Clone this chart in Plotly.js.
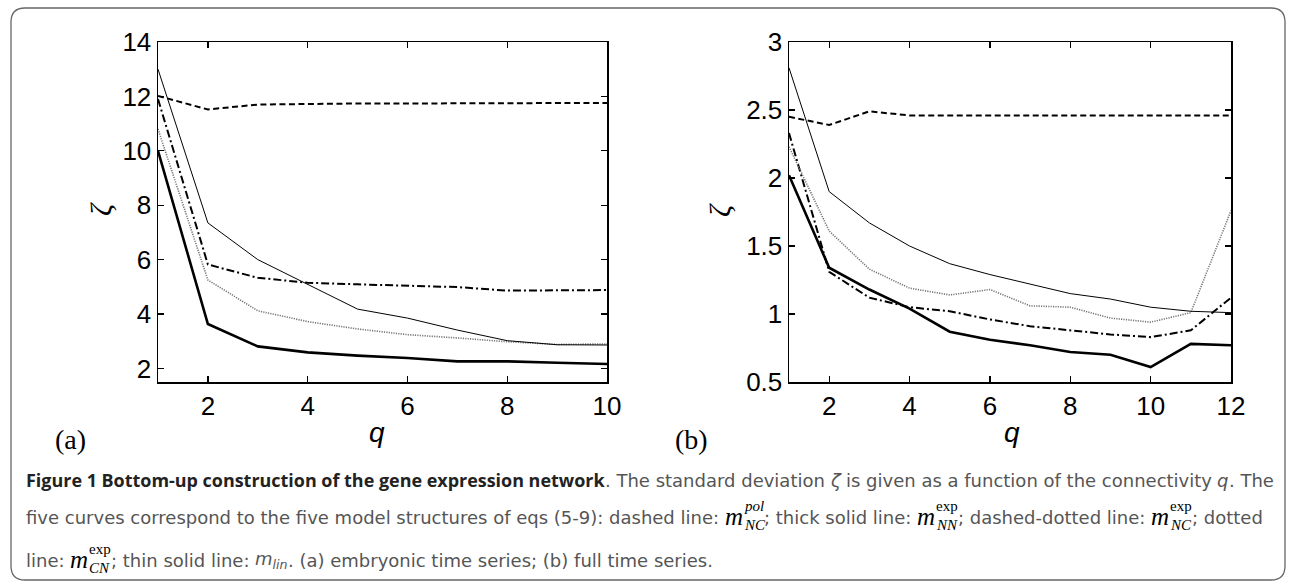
<!DOCTYPE html>
<html><head><meta charset="utf-8">
<script src="https://cdn.plot.ly/plotly-3.0.1.min.js"></script>
<style>html,body{margin:0;padding:0;background:#fff;} #chart{width:1292px;height:587px;}</style>
</head><body><div id="chart"></div>
<script>
// ---------- data ----------
const qA = [1, 2, 3, 4, 5, 6, 7, 8, 9, 10];
const a_pol = [12.02, 11.52, 11.70, 11.73, 11.74, 11.74, 11.74, 11.74, 11.74, 11.76]; // dashed
const a_NN  = [10.00, 3.63, 2.81, 2.59, 2.47, 2.38, 2.26, 2.26, 2.21, 2.16];        // thick solid
const a_NC  = [11.90, 5.82, 5.33, 5.15, 5.09, 5.03, 4.99, 4.86, 4.88, 4.88];        // dash-dot
const a_CN  = [10.80, 5.25, 4.12, 3.72, 3.45, 3.24, 3.12, 2.98, 2.88, 2.90];        // dotted
const a_lin = [13.00, 7.35, 6.00, 5.10, 4.18, 3.85, 3.41, 3.02, 2.87, 2.86];        // thin solid

const qB = [1, 2, 3, 4, 5, 6, 7, 8, 9, 10, 11, 12];
const b_pol = [2.45, 2.39, 2.49, 2.46, 2.46, 2.46, 2.46, 2.46, 2.46, 2.46, 2.46, 2.46];
const b_NN  = [2.02, 1.34, 1.18, 1.04, 0.87, 0.81, 0.77, 0.72, 0.70, 0.61, 0.78, 0.77];
const b_NC  = [2.33, 1.31, 1.12, 1.05, 1.02, 0.96, 0.91, 0.88, 0.85, 0.83, 0.88, 1.12];
const b_CN  = [2.23, 1.61, 1.33, 1.19, 1.14, 1.18, 1.06, 1.05, 0.97, 0.94, 1.01, 1.76];
const b_lin = [2.81, 1.90, 1.67, 1.50, 1.37, 1.29, 1.22, 1.15, 1.11, 1.05, 1.02, 1.01];

const ticksA_x = [2, 4, 6, 8, 10];
const ticksA_y = [2, 4, 6, 8, 10, 12, 14];
const ticksB_x = [2, 4, 6, 8, 10, 12];
const ticksB_y = [0.5, 1, 1.5, 2, 2.5, 3];
const ticksB_ytext = ['0.5', '1', '1.5', '2', '2.5', '3'];

// ---------- layout helpers ----------
const W = 1292, H = 587;
const px = x => x / W, py = y => 1 - y / H;

// measure text with an SVG text node (same engine Plotly draws with); removed after use
const svgNS = 'http://www.w3.org/2000/svg';
const msvg = document.createElementNS(svgNS, 'svg');
msvg.setAttribute('style', 'position:absolute;left:0;top:0;width:2000px;height:100px;visibility:hidden');
const mtext = document.createElementNS(svgNS, 'text');
mtext.setAttribute('x', '0'); mtext.setAttribute('y', '50');
mtext.style.whiteSpace = 'pre';
msvg.appendChild(mtext);
document.body.appendChild(msvg);
function measure(text, fam, size, style, weight) {
  mtext.style.fontFamily = fam;
  mtext.style.fontSize = size + 'px';
  mtext.style.fontStyle = style || 'normal';
  mtext.style.fontWeight = weight || 'normal';
  mtext.textContent = text;
  return mtext.getComputedTextLength();
}

const styles = {
  pol: {dash: '6px,3.5px', width: 2, color: '#000'},
  NN:  {dash: 'solid', width: 2.6, color: '#000'},
  NC:  {dash: '8px,3px,2px,3px', width: 2, color: '#000'},
  CN:  {dash: '1.2px,1.2px', width: 1.6, color: '#777'},
  lin: {dash: 'solid', width: 1, color: '#000'}
};
function tr(x, y, s, xa, ya) {
  return {x: x, y: y, type: 'scatter', mode: 'lines', xaxis: xa, yaxis: ya,
          line: {dash: s.dash, width: s.width, color: s.color}, showlegend: false, hoverinfo: 'skip'};
}
const data = [
  tr(qA, a_pol, styles.pol, 'x', 'y'), tr(qA, a_NC, styles.NC, 'x', 'y'), tr(qA, a_CN, styles.CN, 'x', 'y'),
  tr(qA, a_lin, styles.lin, 'x', 'y'), tr(qA, a_NN, styles.NN, 'x', 'y'),
  tr(qB, b_pol, styles.pol, 'x2', 'y2'), tr(qB, b_NC, styles.NC, 'x2', 'y2'), tr(qB, b_CN, styles.CN, 'x2', 'y2'),
  tr(qB, b_lin, styles.lin, 'x2', 'y2'), tr(qB, b_NN, styles.NN, 'x2', 'y2')
];

const tickFont = {family: 'Liberation Sans, Arial, sans-serif', size: 26, color: '#000'};
function axis(extra) {
  return Object.assign({ticks: 'inside', ticklen: 6, tickwidth: 1.3, tickcolor: '#000', showline: true,
    linecolor: '#000', linewidth: 1.5, mirror: 'ticks', showgrid: false, zeroline: false,
    tickfont: tickFont, fixedrange: true}, extra);
}

const L = {x0: 158, x1: 607, y0: 42, y1: 382};
const R = {x0: 789, x1: 1231, y0: 42, y1: 382};

const annotations = [];
function ann(x, y, text, font, extra) {
  annotations.push(Object.assign({xref: 'paper', yref: 'paper', x: px(x), y: py(y), text: text,
    showarrow: false, font: font, xanchor: 'center', yanchor: 'middle', borderpad: 0}, extra || {}));
}
const labFont = {family: 'Liberation Sans, Arial, sans-serif', size: 28, color: '#000', style: 'italic'};
const zetaFont = {family: 'Liberation Serif, Times New Roman, serif', size: 30, color: '#000', style: 'italic'};
const panFont = {family: 'Liberation Serif, Times New Roman, serif', size: 28, color: '#000'};
ann(101, 209, 'ζ', zetaFont, {textangle: -90});
ann(719, 210, 'ζ', zetaFont, {textangle: -90});
ann(377, 432, 'q', labFont);
ann(1012, 432, 'q', labFont);
ann(70, 439, '(a)', panFont);
ann(691, 439, '(b)', panFont);

// ---------- caption ----------
const capFam = 'DejaVu Sans';
const boldFam = 'Open Sans';
const capColor = '#555';
const boldColor = '#222';
const mathFam = 'Liberation Serif';
const mSize = 25, scSize = 15;

const capLine1 = [
  {t: 'Figure 1 Bottom-up construction of the gene expression network', w: 'bold'},
  {t: '. The standard deviation '}, {t: 'ζ ', s: 'italic'},
  {t: 'is given as a function of the connectivity '}, {t: 'q', s: 'italic'}, {t: '. The'}
];
const capLine2 = [
  {t: 'five curves correspond to the five model structures of eqs (5-9): dashed line: '},
  {m: true, sup: 'pol', supI: true, sub: 'NC'}, {t: '; thick solid line: '},
  {m: true, sup: 'exp', sub: 'NN'}, {t: '; dashed-dotted line: '},
  {m: true, sup: 'exp', sub: 'NC'}, {t: '; dotted'}
];
const capLine3 = [
  {t: 'line: '}, {m: true, sup: 'exp', sub: 'CN'}, {t: '; thin solid line: '},
  {lin: true}, {t: '. (a) embryonic time series; (b) full time series.'}
];

function mathW(sg) {
  return measure('m', mathFam, mSize, 'italic') + 1 +
    Math.max(measure(sg.sup, mathFam, scSize, sg.supI ? 'italic' : 'normal'), measure(sg.sub, mathFam, scSize, 'italic'));
}
function segW(sg, size, bsize) {
  if (sg.m) return mathW(sg);
  if (sg.lin) return measure('m', capFam, size, 'italic') + measure('lin', capFam, size * 0.7, 'italic');
  if (sg.w === 'bold') return measure(sg.t, boldFam, bsize, sg.s, 'bold');
  return measure(sg.t, capFam, size, sg.s, sg.w);
}
// fit regular text size so that line 2 spans like the reference
let t16 = 0, mw = 0;
capLine2.forEach(sg => { if (sg.m) mw += mathW(sg); else t16 += segW(sg, 16, 16); });
const capSize = Math.max(12, Math.min(20, 16 * (1262 - 25 - mw) / t16));
// fit bold run so that line 1 spans like the reference
let rest1 = 0, b16 = 0;
capLine1.forEach(sg => { if (sg.w === 'bold') b16 += segW(sg, 16, 16); else rest1 += segW(sg, capSize, capSize); });
const boldSize = Math.max(capSize * 0.85, Math.min(capSize * 1.1, 16 * (1273 - 25 - rest1) / b16));

function placeLine(segs, y, x) {
  segs.forEach(sg => {
    if (sg.m) {
      ann(x, y - 1, 'm', {family: mathFam, size: mSize, color: '#000', style: 'italic'}, {xanchor: 'left'});
      const x2 = x + measure('m', mathFam, mSize, 'italic') + 1;
      ann(x2, y - 11, sg.sup, {family: mathFam, size: scSize, color: '#000', style: sg.supI ? 'italic' : 'normal'}, {xanchor: 'left'});
      ann(x2, y + 8, sg.sub, {family: mathFam, size: scSize, color: '#000', style: 'italic'}, {xanchor: 'left'});
    } else if (sg.lin) {
      ann(x, y, '<i>m</i><sub><i>lin</i></sub>', {family: capFam, size: capSize, color: capColor}, {xanchor: 'left'});
    } else if (sg.w === 'bold') {
      ann(x, y, sg.t, {family: boldFam, size: boldSize, color: boldColor, weight: 'bold'}, {xanchor: 'left'});
    } else {
      const font = {family: capFam, size: capSize, color: capColor};
      if (sg.s) font.style = sg.s;
      ann(x, y, sg.t, font, {xanchor: 'left'});
    }
    x += segW(sg, capSize, boldSize);
  });
}
placeLine(capLine1, 480, 25);
placeLine(capLine2, 517, 25);
placeLine(capLine3, 560, 25);
document.body.removeChild(msvg);

// rounded border
const bx0 = 11, by0 = 8, bx1 = 1285, by1 = 580, r = 14;
const path = 'M' + px(bx0 + r) + ',' + py(by0) + ' L' + px(bx1 - r) + ',' + py(by0) +
  ' Q' + px(bx1) + ',' + py(by0) + ' ' + px(bx1) + ',' + py(by0 + r) +
  ' L' + px(bx1) + ',' + py(by1 - r) + ' Q' + px(bx1) + ',' + py(by1) + ' ' + px(bx1 - r) + ',' + py(by1) +
  ' L' + px(bx0 + r) + ',' + py(by1) + ' Q' + px(bx0) + ',' + py(by1) + ' ' + px(bx0) + ',' + py(by1 - r) +
  ' L' + px(bx0) + ',' + py(by0 + r) + ' Q' + px(bx0) + ',' + py(by0) + ' ' + px(bx0 + r) + ',' + py(by0) + ' Z';

const layout = {
  width: W, height: H, margin: {l: 0, r: 0, t: 0, b: 0}, paper_bgcolor: '#fff', plot_bgcolor: '#fff',
  showlegend: false,
  xaxis: axis({domain: [px(L.x0), px(L.x1)], range: [1, 10], tickvals: ticksA_x, anchor: 'y'}),
  yaxis: axis({domain: [py(L.y1), py(L.y0)], range: [1.5, 14], tickvals: ticksA_y, anchor: 'x'}),
  xaxis2: axis({domain: [px(R.x0), px(R.x1)], range: [1, 12], tickvals: ticksB_x, anchor: 'y2'}),
  yaxis2: axis({domain: [py(R.y1), py(R.y0)], range: [0.5, 3], tickvals: ticksB_y, ticktext: ticksB_ytext, anchor: 'x2'}),
  annotations: annotations,
  shapes: [{type: 'path', xref: 'paper', yref: 'paper', path: path, line: {color: '#666', width: 1.3}}]
};
Plotly.newPlot('chart', data, layout, {staticPlot: true, displayModeBar: false});
</script></body></html>
